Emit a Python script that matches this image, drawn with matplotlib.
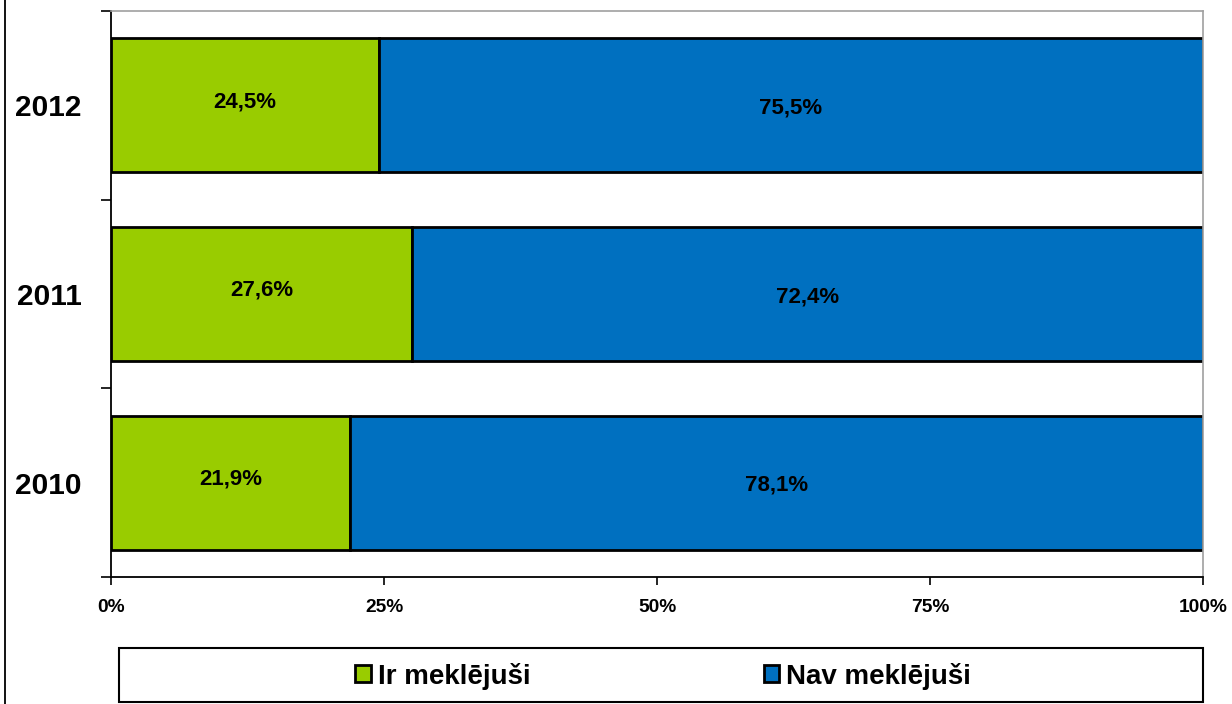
import matplotlib.pyplot as plt
from matplotlib.patches import Rectangle
from matplotlib.lines import Line2D
import numpy as np

# === DATA ===
years = ["2010", "2011", "2012"]
ir_meklejusi = [21.9, 27.6, 24.5]
nav_meklejusi = [78.1, 72.4, 75.5]
x_ticks = [0, 25, 50, 75, 100]
x_tick_labels = ["0%", "25%", "50%", "75%", "100%"]
series_names = ["Ir meklējuši", "Nav meklējuši"]

green = "#99CC00"
blue = "#0070C0"

plt.rcParams['font.family'] = ['Liberation Sans', 'DejaVu Sans']
plt.rcParams['font.weight'] = 'bold'

# === PLOT ===
fig = plt.figure(figsize=(12.32, 7.04), dpi=100)
ax = fig.add_axes([111 / 1232, 1 - 577 / 704, (1203 - 111) / 1232, (577 - 11) / 704])

y = np.arange(len(years))
h = 0.71
b1 = ax.barh(y, ir_meklejusi, height=h, color=green, edgecolor="black", linewidth=2,
             label=series_names[0])
b2 = ax.barh(y, nav_meklejusi, height=h, left=ir_meklejusi, color=blue, edgecolor="black",
             linewidth=2, label=series_names[1])

for i in range(len(years)):
    ax.text(ir_meklejusi[i] / 2, y[i] + 0.02, f"{ir_meklejusi[i]:.1f}%".replace(".", ","),
            ha="center", va="center", fontsize=16, fontweight="bold")
    ax.text(ir_meklejusi[i] + nav_meklejusi[i] / 2, y[i] - 0.015, f"{nav_meklejusi[i]:.1f}%".replace(".", ","),
            ha="center", va="center", fontsize=16, fontweight="bold")

ax.set_xlim(0, 100)
ax.set_ylim(-0.5, 2.5)

ax.set_xticks(x_ticks)
ax.set_xticklabels(x_tick_labels, fontsize=13.8, fontweight="bold")
ax.tick_params(axis="x", direction="out", length=6, width=1.2, pad=10)

ax.set_yticks(y)
ax.set_yticklabels(years, fontsize=21.5, fontweight="bold")
ax.tick_params(axis="y", which="major", length=0, pad=21)
ax.set_yticks(np.arange(-0.5, 3, 1), minor=True)
ax.tick_params(axis="y", which="minor", direction="out", length=7, width=1.2)

for s in ["left", "bottom"]:
    ax.spines[s].set_color("black")
    ax.spines[s].set_linewidth(1.3)
for s in ["top", "right"]:
    ax.spines[s].set_color("#A0A0A0")
    ax.spines[s].set_linewidth(1.2)

# legend box
fig.patches.append(Rectangle((119 / 1232, 1 - 702 / 704), (1203 - 119) / 1232, 54 / 704,
                             transform=fig.transFigure, fill=False, edgecolor="black",
                             linewidth=1.5))
fig.legend(handles=[b1, b2], loc="center", bbox_to_anchor=(663 / 1232, 1 - 676 / 704),
           ncol=2, frameon=False, prop={"weight": "bold", "size": 20},
           handlelength=0.55, handleheight=0.55, handletextpad=0.25, columnspacing=8.4)

# left border line of the chart frame
fig.add_artist(Line2D([4.5 / 1232, 4.5 / 1232], [0, 1], transform=fig.transFigure,
                      color="black", linewidth=1.3))

plt.savefig("out.png", dpi=100)
plt.close()
